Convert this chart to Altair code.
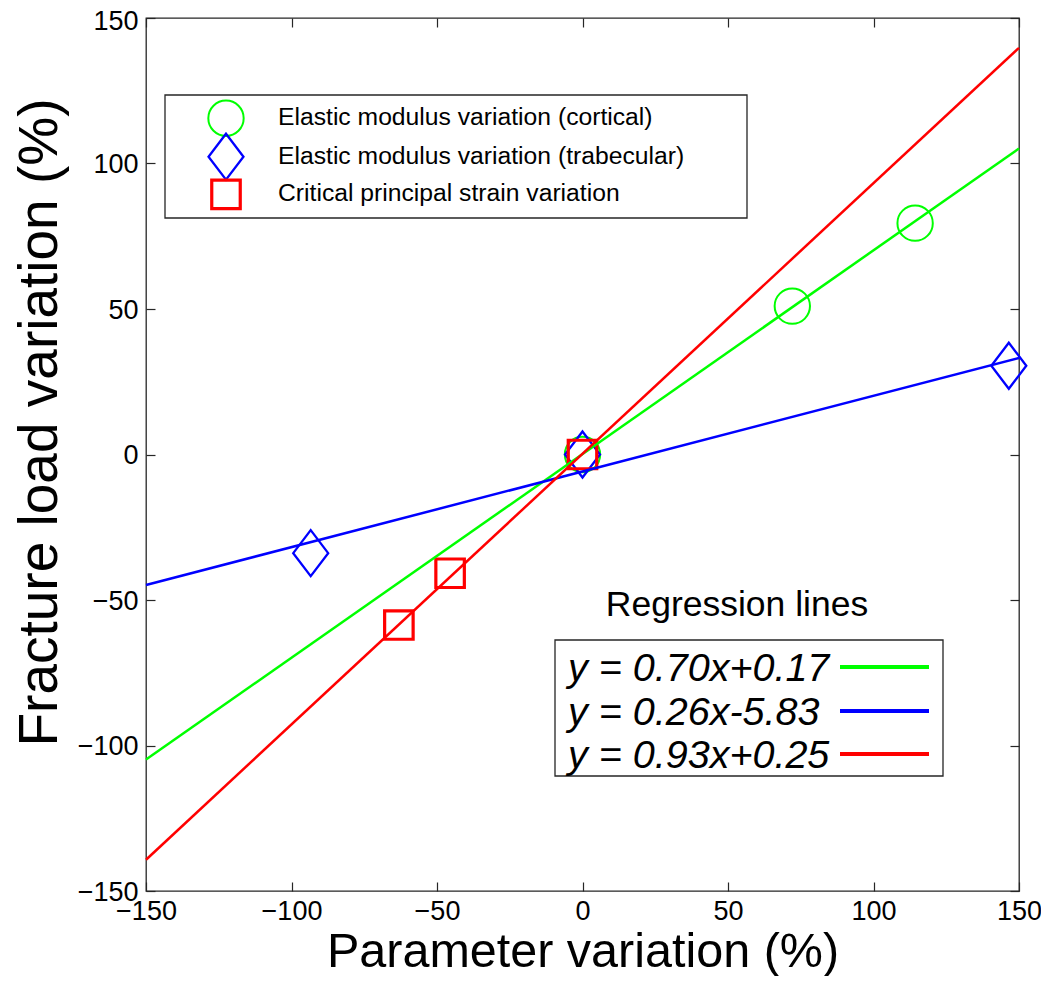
import altair as alt
import pandas as pd

# ---------------- data ----------------
x_domain = [-150, 150]
y_domain = [-150, 150]
tick_values = [-150, -100, -50, 0, 50, 100, 150]

series_names = [
    "Elastic modulus variation (cortical)",
    "Elastic modulus variation (trabecular)",
    "Critical principal strain variation",
]
series_colors = ["#00ff00", "#0000ff", "#ff0000"]

cortical_x = [0, 72.1, 114.3]
cortical_y = [0, 51.0, 79.5]
trabecular_x = [-93.4, 0, 146.5]
trabecular_y = [-33.9, 0, 30.5]
strain_x = [-63.1, -45.5, 0]
strain_y = [-58.6, -40.8, 0]

slopes = [0.70, 0.26, 0.93]
intercepts = [0.17, -5.83, 0.25]
equation_labels = ["y = 0.70x+0.17", "y = 0.26x-5.83", "y = 0.93x+0.25"]
legend2_title = "Regression lines"

# ---------------- styles ----------------
FONT = "Liberation Sans"
W, H = 873, 873
DIAMOND = "M0,-1L0.76,0L0,1L-0.76,0Z"
FRAME = "#262626"

xs = alt.Scale(domain=x_domain, nice=False, zero=False)
ys = alt.Scale(domain=y_domain, nice=False, zero=False)


def pts(xv, yv):
    return pd.DataFrame({"x": xv, "y": yv})


def line_df(m, b):
    return pd.DataFrame({"x": x_domain, "y": [m * x_domain[0] + b, m * x_domain[1] + b]})


top_test = f"datum.value == {y_domain[1]}"

main_x_axis = alt.Axis(values=tick_values, orient="bottom", title="Parameter variation (%)",
                       ticks=False, tickSize=0, domain=False, grid=False,
                       labelFontSize=27, labelPadding=7, labelFont=FONT, labelColor="black",
                       labelFlush=False, labelOverlap=False, labelBound=False,
                       titleFont=FONT, titleFontSize=48.5, titleFontWeight="normal", titleColor="black",
                       titleBaseline="alphabetic", titleY=75)
main_y_axis = alt.Axis(values=tick_values, orient="left", title="Fracture load variation (%)",
                       ticks=False, tickSize=0, domain=False, grid=False,
                       labelFontSize=27, labelPadding=8, labelFont=FONT, labelColor="black",
                       labelFlush=False, labelOverlap=False, labelBound=False,
                       labelBaseline={"condition": {"test": top_test, "value": "top"}, "value": "middle"},
                       labelOffset={"condition": {"test": top_test, "value": -10}, "value": 1},
                       titleFont=FONT, titleFontSize=55, titleFontWeight="normal", titleColor="black",
                       titleBaseline="alphabetic", titleX=-90, titleY=404)


def tick_axis(orient):
    return alt.Axis(values=tick_values, orient=orient, offset=-9, tickSize=9, ticks=True,
                    tickColor=FRAME, tickWidth=1.2, labels=False, domain=False, grid=False, title=None)


# markers
circles = alt.Chart(pts(cortical_x, cortical_y)).mark_point(
    shape="circle", filled=False, size=1250, strokeWidth=2, color=series_colors[0], opacity=1
).encode(x=alt.X("x:Q", scale=xs, axis=main_x_axis), y=alt.Y("y:Q", scale=ys, axis=main_y_axis))

diamonds = alt.Chart(pts(trabecular_x, trabecular_y)).mark_point(
    shape=DIAMOND, filled=False, size=2116, strokeWidth=2.3, color=series_colors[1], opacity=1
).encode(x=alt.X("x:Q", scale=xs, axis=tick_axis("bottom")), y=alt.Y("y:Q", scale=ys, axis=tick_axis("left")))

squares = alt.Chart(pts(strain_x, strain_y)).mark_point(
    shape="square", filled=False, size=812, strokeWidth=3.2, color=series_colors[2], opacity=1
).encode(x=alt.X("x:Q", scale=xs, axis=tick_axis("top")), y=alt.Y("y:Q", scale=ys, axis=tick_axis("right")))

lines = []
for m, b, c in zip(slopes, intercepts, series_colors):
    lines.append(alt.Chart(line_df(m, b)).mark_line(color=c, strokeWidth=2.5).encode(
        x=alt.X("x:Q", scale=xs, axis=None), y=alt.Y("y:Q", scale=ys, axis=None)))

one = pd.DataFrame({"k": [0]})

# ---------------- legend 1 (markers) ----------------
L1 = dict(x0=19, x1=601, y0=77, y1=200, sym_x=80, txt_x=132, rows=[100.3, 138.7, 176.3])
leg1 = [alt.Chart(one).mark_rect(fill="white", stroke=FRAME, strokeWidth=1.3).encode(
    x=alt.value(L1["x0"]), x2=alt.value(L1["x1"]), y=alt.value(L1["y0"]), y2=alt.value(L1["y1"]))]
sym_specs = [("circle", 1250, 2), (DIAMOND, 2116, 2.3), ("square", 812, 3.2)]
for (shape, size, sw), c, yy in zip(sym_specs, series_colors, L1["rows"]):
    leg1.append(alt.Chart(one).mark_point(shape=shape, size=size, strokeWidth=sw, filled=False,
                                          color=c, opacity=1).encode(
        x=alt.value(L1["sym_x"]), y=alt.value(yy)))
for name, yy in zip(series_names, L1["rows"]):
    leg1.append(alt.Chart(pd.DataFrame({"t": [name]})).mark_text(
        align="left", baseline="middle", font=FONT, fontSize=24.7, color="black").encode(
        x=alt.value(L1["txt_x"]), y=alt.value(yy), text="t:N"))

# ---------------- legend 2 (regression lines) ----------------
L2 = dict(x0=409, x1=797, y0=622, y1=758, title_x=591, title_y=587, txt_x=422,
          seg_x0=694, seg_x1=783, rows=[649, 693, 736])
leg2 = [
    alt.Chart(pd.DataFrame({"t": [legend2_title]})).mark_text(
        align="center", baseline="middle", font=FONT, fontSize=35.5, color="black").encode(
        x=alt.value(L2["title_x"]), y=alt.value(L2["title_y"]), text="t:N"),
    alt.Chart(one).mark_rect(fill="white", stroke=FRAME, strokeWidth=1.3).encode(
        x=alt.value(L2["x0"]), x2=alt.value(L2["x1"]), y=alt.value(L2["y0"]), y2=alt.value(L2["y1"])),
]
for lab, c, yy in zip(equation_labels, series_colors, L2["rows"]):
    leg2.append(alt.Chart(pd.DataFrame({"t": [lab]})).mark_text(
        align="left", baseline="middle", font=FONT, fontSize=39.5, fontStyle="italic", color="black").encode(
        x=alt.value(L2["txt_x"]), y=alt.value(yy + 2), text="t:N"))
    leg2.append(alt.Chart(one).mark_rule(color=c, strokeWidth=4).encode(
        x=alt.value(L2["seg_x0"]), x2=alt.value(L2["seg_x1"]), y=alt.value(yy)))

chart = alt.layer(circles, diamonds, squares, *lines, *leg1, *leg2).resolve_axis(
    x="independent", y="independent"
).properties(
    width=W, height=H,
    autosize=alt.AutoSizeParams(type="none"),
    padding={"left": 138, "top": 10, "right": 22, "bottom": 85},
    background="white",
).configure_view(stroke=FRAME, strokeWidth=1.3)

chart.save("out.html", embed_options={"renderer": "svg", "actions": False})
